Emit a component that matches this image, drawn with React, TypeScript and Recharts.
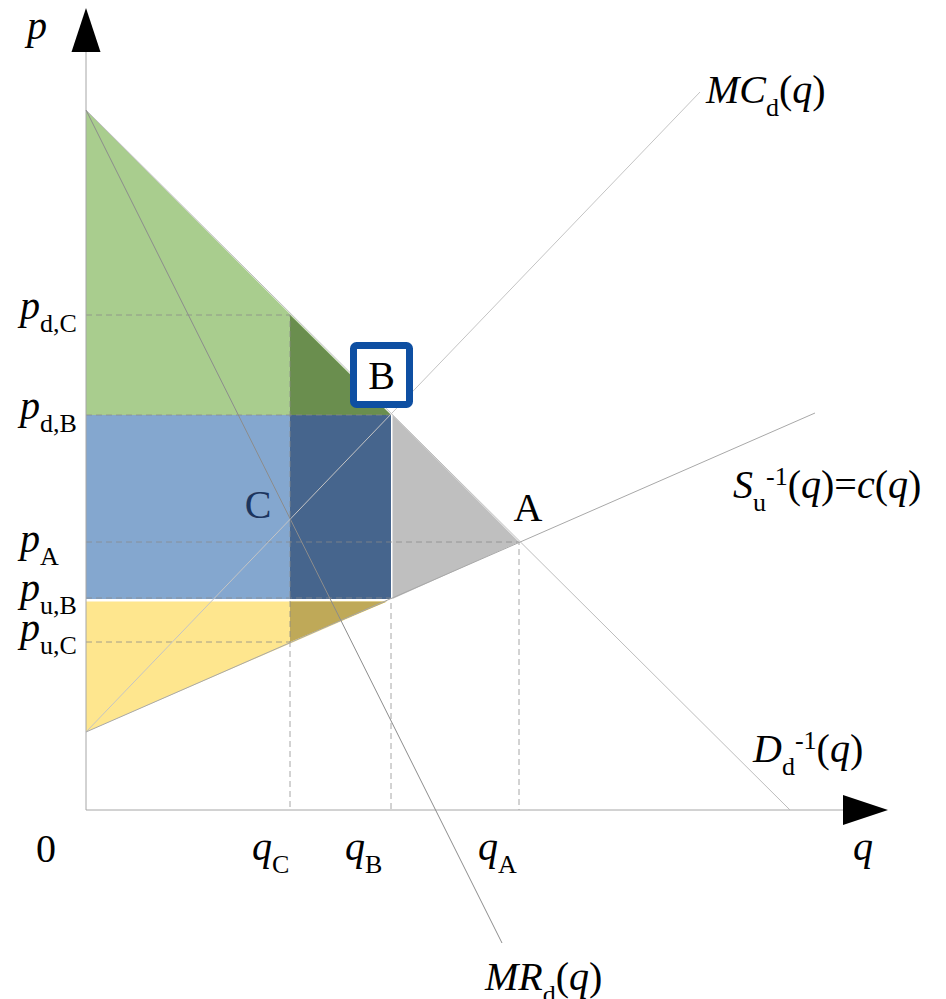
import { Area, ComposedChart, Line, ReferenceDot, XAxis, YAxis } from "recharts";

// key quantities and prices
const Q_C = 20.4;
const Q_B = 30.5;
const Q_A = 43.3;
const P_DC = 49.5;
const P_DB = 39.5;
const P_A = 26.8;
const P_UB = 21.1;
const P_UC = 16.8;
const P_C = 29.1;

// curve end points
const DEMAND = [{ q: 0, p: 70 }, { q: 70.4, p: 0 }];
const MARGINAL_REVENUE = [{ q: 0, p: 70 }, { q: 41.6, p: -13.3 }];
const MARGINAL_COST = [{ q: 0, p: 7.8 }, { q: 61.4, p: 71.8 }];
const SUPPLY = [{ q: 0, p: 7.8 }, { q: 72.9, p: 39.7 }];
const AXIS_X = [{ q: 0, p: 0 }, { q: 75.7, p: 0 }];
const AXIS_Y = [{ q: 0, p: 0 }, { q: 0, p: 75.8 }];
const ARROW_TIP = 80.2;
const GAP = 0.25; // white seam between blue and yellow

// shaded regions, [low, high] per q
const GREEN = [{ q: 0, r: [P_DB, 70] }, { q: Q_B, r: [P_DB, P_DB] }];
const BLUE = [{ q: 0, r: [P_UB, P_DB] }, { q: Q_B, r: [P_UB, P_DB] }];
const YELLOW = [{ q: 0, r: [7.8, P_UB - GAP] }, { q: Q_B - 0.4, r: [P_UB - GAP, P_UB - GAP] }];
const GREY = [{ q: Q_B + 0.15, r: [P_UB, P_DB] }, { q: Q_A, r: [P_A, P_A] }];
const DARK_GREEN = [{ q: Q_C, r: [P_DB, P_DC] }, { q: Q_B, r: [P_DB, P_DB] }];
const DARK_BLUE = [{ q: Q_C, r: [P_UB, P_DB] }, { q: Q_B, r: [P_UB, P_DB] }];
const DARK_YELLOW = [{ q: Q_C, r: [P_UC, P_UB - GAP] }, { q: Q_B - 0.4, r: [P_UB - GAP, P_UB - GAP] }];

// dashed guides
const GUIDE_DC = [{ q: 0, p: P_DC }, { q: Q_C, p: P_DC }, { q: Q_C, p: 0 }];
const GUIDE_DB = [{ q: 0, p: P_DB }, { q: Q_B, p: P_DB }];
const GUIDE_A = [{ q: 0, p: P_A }, { q: Q_A, p: P_A }, { q: Q_A, p: 0 }];
const GUIDE_UB = [{ q: 0, p: P_UB + 0.1 }, { q: Q_B, p: P_UB + 0.1 }, { q: Q_B, p: 0 }];
const GUIDE_UC = [{ q: 0, p: P_UC }, { q: Q_C, p: P_UC }];

const FONT = "Liberation Serif, Times New Roman, DejaVu Serif, serif";

type Seg = { t: string; i?: boolean; pos?: "sub" | "sup" };

function MathLabel({ x, y, segs, size = 40, fill = "#000", anchor = "start" }: {
  x: number; y: number; segs: Seg[]; size?: number; fill?: string; anchor?: string;
}) {
  const small = 26;
  return (
    <text x={x} y={y} style={{ fontFamily: FONT, fontSize: size }} fill={fill} textAnchor={anchor as any}>
      {segs.map((s, k) => (
        <tspan
          key={k}
          y={s.pos === "sub" ? y + 13 : s.pos === "sup" ? y - 13 : y}
          style={{ fontFamily: FONT, fontSize: s.pos ? small : size, fontStyle: s.i ? "italic" : "normal" }}
        >
          {s.t}
        </tspan>
      ))}
    </text>
  );
}

const LABELS: { q: number; p: number; dx: number; dy: number; segs: Seg[]; fill?: string; anchor?: string }[] = [
  { q: 0, p: ARROW_TIP, dx: -59, dy: 31, segs: [{ t: "p", i: true }] },
  { q: ARROW_TIP, p: 0, dx: -35, dy: 50, segs: [{ t: "q", i: true }] },
  { q: 0, p: 0, dx: -50, dy: 52, segs: [{ t: "0" }] },
  { q: 0, p: P_DC, dx: -66, dy: 4, segs: [{ t: "p", i: true }, { t: "d,C", pos: "sub" }] },
  { q: 0, p: P_DB, dx: -66, dy: 4, segs: [{ t: "p", i: true }, { t: "d,B", pos: "sub" }] },
  { q: 0, p: P_A, dx: -66, dy: 10, segs: [{ t: "p", i: true }, { t: "A", pos: "sub" }] },
  { q: 0, p: P_UB, dx: -66, dy: 2, segs: [{ t: "p", i: true }, { t: "u,B", pos: "sub" }] },
  { q: 0, p: P_UC, dx: -66, dy: -1, segs: [{ t: "p", i: true }, { t: "u,C", pos: "sub" }] },
  { q: Q_C, p: 0, dx: -38, dy: 50, segs: [{ t: "q", i: true }, { t: "C", pos: "sub" }] },
  { q: Q_B, p: 0, dx: -46, dy: 50, segs: [{ t: "q", i: true }, { t: "B", pos: "sub" }] },
  { q: Q_A, p: 0, dx: -41, dy: 50, segs: [{ t: "q", i: true }, { t: "A", pos: "sub" }] },
  { q: 61.4, p: 71.8, dx: 6, dy: 11, segs: [{ t: "MC", i: true }, { t: "d", pos: "sub" }, { t: "(" }, { t: "q", i: true }, { t: ")" }] },
  {
    q: 72.9, p: 39.7, dx: -82, dy: 85,
    segs: [{ t: "S", i: true }, { t: "u", pos: "sub" }, { t: "-1", pos: "sup" }, { t: "(" }, { t: "q", i: true }, { t: ")=" }, { t: "c", i: true }, { t: "(" }, { t: "q", i: true }, { t: ")" }],
  },
  {
    q: 70.4, p: 0, dx: -37, dy: -48,
    segs: [{ t: "D", i: true }, { t: "d", pos: "sub" }, { t: "-1", pos: "sup" }, { t: "(" }, { t: "q", i: true }, { t: ")" }],
  },
  { q: 41.6, p: -13.3, dx: -17, dy: 47, segs: [{ t: "MR", i: true }, { t: "d", pos: "sub" }, { t: "(" }, { t: "q", i: true }, { t: ")" }] },
  { q: Q_A, p: P_A, dx: 9, dy: -21, segs: [{ t: "A" }], anchor: "middle" },
  { q: Q_C, p: P_C, dx: -32, dy: -1, segs: [{ t: "C" }], anchor: "middle", fill: "#1c355e" },
];

const regions = [
  { key: "green", data: GREEN, fill: "#a9cd8e" },
  { key: "blue", data: BLUE, fill: "#84a7cf" },
  { key: "yellow", data: YELLOW, fill: "#fee68e" },
  { key: "grey", data: GREY, fill: "#bfbfbf" },
  { key: "dgreen", data: DARK_GREEN, fill: "#6a8e4e" },
  { key: "dblue", data: DARK_BLUE, fill: "#46658d" },
  { key: "dyellow", data: DARK_YELLOW, fill: "#bfa958" },
];

const guides = [GUIDE_DC, GUIDE_DB, GUIDE_A, GUIDE_UB, GUIDE_UC];

const curves = [
  { key: "axx", data: AXIS_X, color: "#a6a6a6" },
  { key: "axy", data: AXIS_Y, color: "#a6a6a6" },
  { key: "d", data: DEMAND, color: "#bdbdbd" },
  { key: "mc", data: MARGINAL_COST, color: "#c4c4c4" },
  { key: "s", data: SUPPLY, color: "#a8a8a8" },
  { key: "mr", data: MARGINAL_REVENUE, color: "#8c8c8c" },
];

export default function App() {
  return (
    <div style={{ position: "absolute", left: 0, top: 0, width: 946, height: 999, background: "#fff" }}>
      <ComposedChart width={946} height={999} margin={{ top: 0, right: 0, bottom: 0, left: 0 }}>
        <XAxis type="number" dataKey="q" domain={[-8.6, 86]} allowDataOverflow hide />
        <YAxis type="number" domain={[-18.9, 81]} allowDataOverflow hide />

        {regions.map((r) => (
          <Area
            key={r.key}
            data={r.data}
            dataKey="r"
            type="linear"
            fill={r.fill}
            fillOpacity={1}
            stroke="none"
            dot={false}
            activeDot={false}
            isAnimationActive={false}
          />
        ))}

        {guides.map((g, k) => (
          <Line
            key={`g${k}`}
            data={g}
            dataKey="p"
            type="linear"
            stroke="#8a8a8a"
            strokeOpacity={0.75}
            strokeDasharray="6 4"
            strokeWidth={1}
            dot={false}
            activeDot={false}
            isAnimationActive={false}
          />
        ))}

        {curves.map((c) => (
          <Line
            key={c.key}
            data={c.data}
            dataKey="p"
            type="linear"
            stroke={c.color}
            strokeWidth={1}
            dot={false}
            activeDot={false}
            isAnimationActive={false}
          />
        ))}

        <ReferenceDot
          x={0}
          y={ARROW_TIP}
          r={0}
          ifOverflow="visible"
          shape={(p: any) => (
            <path d={`M${p.cx},${p.cy} L${p.cx + 14.5},${p.cy + 44} L${p.cx - 14.5},${p.cy + 44} Z`} fill="#000" />
          )}
        />
        <ReferenceDot
          x={ARROW_TIP}
          y={0}
          r={0}
          ifOverflow="visible"
          shape={(p: any) => (
            <path d={`M${p.cx},${p.cy} L${p.cx - 45},${p.cy - 15} L${p.cx - 45},${p.cy + 15} Z`} fill="#000" />
          )}
        />
        <ReferenceDot
          x={Q_B}
          y={P_DB}
          r={0}
          ifOverflow="visible"
          shape={(p: any) => (
            <g>
              <rect x={p.cx - 37.5} y={p.cy - 69.5} width={56} height={59} rx={3} fill="#fff" stroke="#0e4fa2" strokeWidth={7} />
              <text x={p.cx - 9.5} y={p.cy - 26} textAnchor="middle" style={{ fontFamily: FONT, fontSize: 40 }} fill="#000">
                B
              </text>
            </g>
          )}
        />

        {LABELS.map((l, k) => (
          <ReferenceDot
            key={`l${k}`}
            x={l.q}
            y={l.p}
            r={0}
            ifOverflow="visible"
            shape={(p: any) => (
              <MathLabel x={p.cx + l.dx} y={p.cy + l.dy} segs={l.segs} fill={l.fill} anchor={l.anchor} />
            )}
          />
        ))}
      </ComposedChart>
    </div>
  );
}
